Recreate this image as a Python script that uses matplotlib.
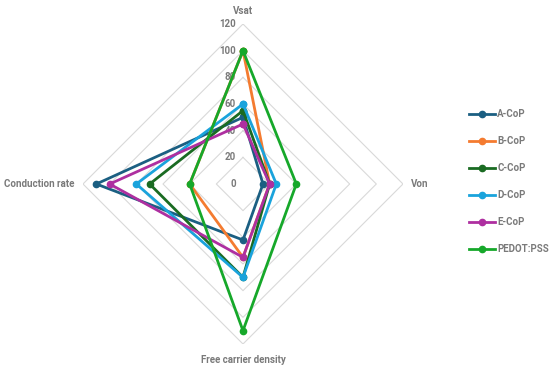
import numpy as np
import matplotlib.pyplot as plt

plt.rcParams['font.family'] = ['Roboto', 'DejaVu Sans']

categories = ['Vsat', 'Von', 'Free carrier density', 'Conduction rate']
series_names = ['A-CoP', 'B-CoP', 'C-CoP', 'D-CoP', 'E-CoP', 'PEDOT:PSS']
a_cop = [50, 15, 42, 110]
b_cop = [100, 20, 55, 40]
c_cop = [55, 20, 70, 70]
d_cop = [60, 25, 70, 80]
e_cop = [45, 20, 55, 100]
pedot = [100, 40, 110, 40]
ring_ticks = [0, 20, 40, 60, 80, 100, 120]

colors = ['#1B5F82', '#F47B30', '#1A6B22', '#1AA3DC', '#AE2FA0', '#16A82A']
txt_col = '#7a7a7a'

angles = np.linspace(0, 2 * np.pi, len(categories), endpoint=False)
closed = np.append(angles, angles[0])

fig = plt.figure(figsize=(5.5, 3.68), dpi=100)
ax = fig.add_axes([0.1509, 0.0652, 0.5818, 0.8696], projection='polar')
ax.set_theta_zero_location('N')
ax.set_theta_direction(-1)
ax.set_ylim(0, 120)
ax.grid(False)
ax.spines['polar'].set_visible(False)
ax.set_xticks([])
ax.set_yticks([])

# diamond gridlines
for r in ring_ticks[1:]:
    ax.plot(closed, [r] * len(closed), color='#d9d9d9', lw=0.8, zorder=1)

for r in ring_ticks:
    ax.annotate(str(r), xy=(0, r), xytext=(-5, 0), textcoords='offset points',
                ha='right', va='center', fontsize=7, fontweight='bold', color=txt_col)

# category labels
offs = [((0, 6), 'center', 'bottom'), ((6, 0), 'left', 'center'),
        ((0, -8), 'center', 'top'), ((-6, 0), 'right', 'center')]
for ang, cat, (off, ha, va) in zip(angles, categories, offs):
    ax.annotate(cat, xy=(ang, 120), xytext=off, textcoords='offset points',
                ha=ha, va=va, fontsize=7, fontweight='bold', color=txt_col)

for name, vals, c in zip(series_names, [a_cop, b_cop, c_cop, d_cop, e_cop, pedot], colors):
    v = vals + vals[:1]
    ax.plot(closed, v, color=c, lw=2, marker='o', markersize=4.5, label=name, zorder=3)

fig.legend(loc='center left', bbox_to_anchor=(0.853, 0.506), frameon=False,
           fontsize=7, labelspacing=1.75, handlelength=2.7, handletextpad=0.2,
           borderpad=0, borderaxespad=0, labelcolor=txt_col,
           prop={'weight': 'bold', 'size': 7})

fig.savefig('out.png', dpi=100)
